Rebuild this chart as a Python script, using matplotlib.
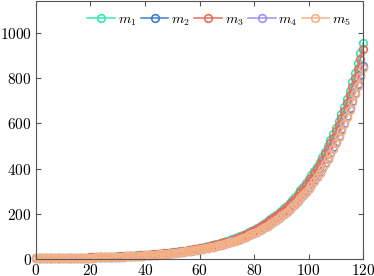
import matplotlib
matplotlib.use("Agg")
import matplotlib.pyplot as plt
import numpy as np

plt.rcParams['font.family'] = 'serif'
plt.rcParams['font.serif'] = ['cmr10']
plt.rcParams['mathtext.fontset'] = 'cm'
plt.rcParams['axes.formatter.use_mathtext'] = True
plt.rcParams['font.size'] = 11

x = np.arange(0, 121)

m1 = [2.37, 2.50, 2.62, 2.76, 2.89, 3.05, 3.20, 3.37, 3.54, 3.72,
      3.91, 4.11, 4.33, 4.54, 4.78, 5.03, 5.28, 5.55, 5.84, 6.14,
      6.45, 6.78, 7.13, 7.49, 7.88, 8.28, 8.71, 9.15, 9.63, 10.11,
      10.63, 11.18, 11.75, 12.35, 13.00, 13.65, 14.35, 15.10, 15.87, 16.68,
      17.54, 18.43, 19.38, 20.37, 21.41, 22.51, 23.67, 24.88, 26.16, 27.50,
      28.91, 30.39, 31.95, 33.58, 35.31, 37.12, 39.02, 41.02, 43.13, 45.34,
      47.66, 50.10, 52.68, 55.38, 58.22, 61.20, 64.34, 67.64, 71.10, 74.75,
      78.58, 82.61, 86.85, 91.30, 95.98, 100.9, 106.1, 111.5, 117.2, 123.3,
      129.6, 136.2, 143.2, 150.5, 158.2, 166.3, 174.9, 183.9, 193.2, 203.2,
      213.6, 224.5, 236.1, 248.1, 260.9, 274.3, 288.4, 303.2, 318.7, 335.0,
      352.2, 370.2, 389.2, 409.2, 430.2, 452.2, 475.4, 499.8, 525.5, 552.3,
      580.7, 610.4, 641.7, 674.6, 709.2, 745.6, 783.8, 824.0, 866.3, 910.7,
      957.3]

m2 = [2.12, 2.23, 2.34, 2.46, 2.59, 2.73, 2.86, 3.01, 3.16, 3.32,
      3.49, 3.68, 3.87, 4.06, 4.27, 4.49, 4.72, 4.96, 5.22, 5.48,
      5.77, 6.06, 6.37, 6.70, 7.04, 7.40, 7.79, 8.18, 8.61, 9.04,
      9.50, 9.99, 10.50, 11.04, 11.62, 12.20, 12.83, 13.49, 14.18, 14.91,
      15.68, 16.47, 17.32, 18.21, 19.14, 20.12, 21.16, 22.24, 23.38, 24.58,
      25.84, 27.16, 28.55, 30.02, 31.56, 33.18, 34.88, 36.66, 38.55, 40.52,
      42.60, 44.78, 47.09, 49.50, 52.04, 54.70, 57.51, 60.46, 63.55, 66.81,
      70.24, 73.84, 77.63, 81.61, 85.79, 90.18, 94.81, 99.68, 104.7, 110.2,
      115.8, 121.7, 128.0, 134.5, 141.4, 148.7, 156.3, 164.3, 172.7, 181.6,
      190.9, 200.7, 211.0, 221.8, 233.2, 245.1, 257.8, 271.0, 284.8, 299.5,
      314.8, 330.9, 347.8, 365.7, 384.5, 404.2, 424.9, 446.7, 469.7, 493.7,
      519.0, 545.6, 573.6, 603.0, 633.9, 666.4, 700.5, 736.5, 774.3, 814.0,
      855.7]

m3 = [2.31, 2.43, 2.55, 2.68, 2.82, 2.97, 3.11, 3.28, 3.44, 3.62,
      3.81, 4.00, 4.21, 4.42, 4.65, 4.90, 5.14, 5.40, 5.69, 5.97,
      6.28, 6.60, 6.94, 7.29, 7.67, 8.06, 8.48, 8.91, 9.37, 9.85,
      10.35, 10.88, 11.44, 12.02, 12.65, 13.29, 13.97, 14.70, 15.44, 16.24,
      17.07, 17.94, 18.87, 19.83, 20.85, 21.91, 23.05, 24.22, 25.47, 26.77,
      28.14, 29.58, 31.10, 32.69, 34.38, 36.14, 37.98, 39.93, 41.99, 44.13,
      46.40, 48.77, 51.28, 53.91, 56.67, 59.58, 62.63, 65.85, 69.21, 72.77,
      76.49, 80.42, 84.55, 88.88, 93.43, 98.22, 103.3, 108.6, 114.1, 120.0,
      126.2, 132.6, 139.4, 146.5, 154.0, 161.9, 170.3, 179.0, 188.1, 197.8,
      207.9, 218.6, 229.8, 241.6, 254.0, 267.0, 280.7, 295.1, 310.2, 326.2,
      342.9, 360.4, 378.8, 398.3, 418.8, 440.2, 462.8, 486.5, 511.5, 537.7,
      565.3, 594.2, 624.7, 656.7, 690.4, 725.8, 763.0, 802.1, 843.3, 886.5,
      932.0]

m4 = [2.11, 2.22, 2.33, 2.45, 2.58, 2.71, 2.85, 2.99, 3.15, 3.31,
      3.48, 3.66, 3.85, 4.04, 4.25, 4.47, 4.70, 4.94, 5.19, 5.46,
      5.74, 6.03, 6.34, 6.67, 7.01, 7.37, 7.75, 8.14, 8.56, 9.00,
      9.46, 9.94, 10.45, 10.99, 11.56, 12.14, 12.76, 13.43, 14.11, 14.83,
      15.60, 16.39, 17.24, 18.12, 19.04, 20.02, 21.05, 22.13, 23.27, 24.46,
      25.71, 27.02, 28.41, 29.87, 31.41, 33.01, 34.70, 36.48, 38.36, 40.32,
      42.39, 44.56, 46.85, 49.26, 51.78, 54.43, 57.22, 60.16, 63.23, 66.48,
      69.89, 73.48, 77.24, 81.20, 85.36, 89.74, 94.34, 99.18, 104.2, 109.6,
      115.3, 121.1, 127.3, 133.9, 140.7, 147.9, 155.6, 163.5, 171.9, 180.7,
      189.9, 199.7, 209.9, 220.7, 232.1, 243.9, 256.5, 269.6, 283.4, 298.0,
      313.3, 329.2, 346.1, 363.9, 382.6, 402.2, 422.8, 444.5, 467.3, 491.2,
      516.5, 542.9, 570.7, 600.0, 630.7, 663.1, 697.1, 732.8, 770.4, 809.9,
      851.4]

m5 = [2.10, 2.21, 2.32, 2.44, 2.56, 2.70, 2.83, 2.98, 3.13, 3.29,
      3.46, 3.64, 3.83, 4.02, 4.23, 4.45, 4.67, 4.91, 5.17, 5.43,
      5.71, 6.00, 6.31, 6.63, 6.97, 7.33, 7.71, 8.10, 8.52, 8.95,
      9.41, 9.89, 10.40, 10.93, 11.50, 12.08, 12.70, 13.36, 14.04, 14.76,
      15.52, 16.31, 17.15, 18.03, 18.95, 19.92, 20.95, 22.02, 23.15, 24.34,
      25.58, 26.89, 28.27, 29.72, 31.25, 32.85, 34.53, 36.30, 38.17, 40.12,
      42.18, 44.34, 46.62, 49.01, 51.52, 54.16, 56.94, 59.86, 62.92, 66.15,
      69.54, 73.11, 76.86, 80.80, 84.94, 89.29, 93.87, 98.69, 103.7, 109.1,
      114.7, 120.5, 126.7, 133.2, 140.0, 147.2, 154.8, 162.7, 171.0, 179.8,
      189.0, 198.7, 208.9, 219.6, 230.9, 242.7, 255.2, 268.3, 282.0, 296.5,
      311.7, 327.6, 344.4, 362.1, 380.7, 400.2, 420.7, 442.3, 465.0, 488.8,
      513.9, 540.2, 567.9, 597.0, 627.6, 659.8, 693.6, 729.2, 766.6, 805.9,
      847.2]

series = [m1, m2, m3, m4, m5]
labels = [r'$m_1$', r'$m_2$', r'$m_3$', r'$m_4$', r'$m_5$']
colors = ['#36e6b8', '#3a7fd2', '#ec6a5a', '#9f8ff0', '#f6b183']

fig = plt.figure(figsize=(3.74, 2.76), dpi=100)
ax = fig.add_axes([0.096, 0.062, 0.875, 0.934])

for y, lab, c in zip(series, labels, colors):
    ax.plot(x, y, color=c, lw=1.1, marker='o', ms=5.5, mfc='none',
            mew=1.2, label=lab, clip_on=False)

ax.set_xlim(0, 120)
ax.set_ylim(0, 1142)
ax.set_xticks([0, 20, 40, 60, 80, 100, 120])
ax.set_yticks([0, 200, 400, 600, 800, 1000])
ax.tick_params(direction='in', top=True, right=True, length=3.5,
               width=0.8, color='#555555', pad=3)
for s in ax.spines.values():
    s.set_color('#555555')
    s.set_linewidth(0.8)

ax.legend(loc='upper right', ncol=5, frameon=False, fontsize=10,
          handlelength=2.0, handletextpad=0.2, columnspacing=0.32,
          borderaxespad=0.6, borderpad=0.3)

fig.savefig('out.png', dpi=100)
